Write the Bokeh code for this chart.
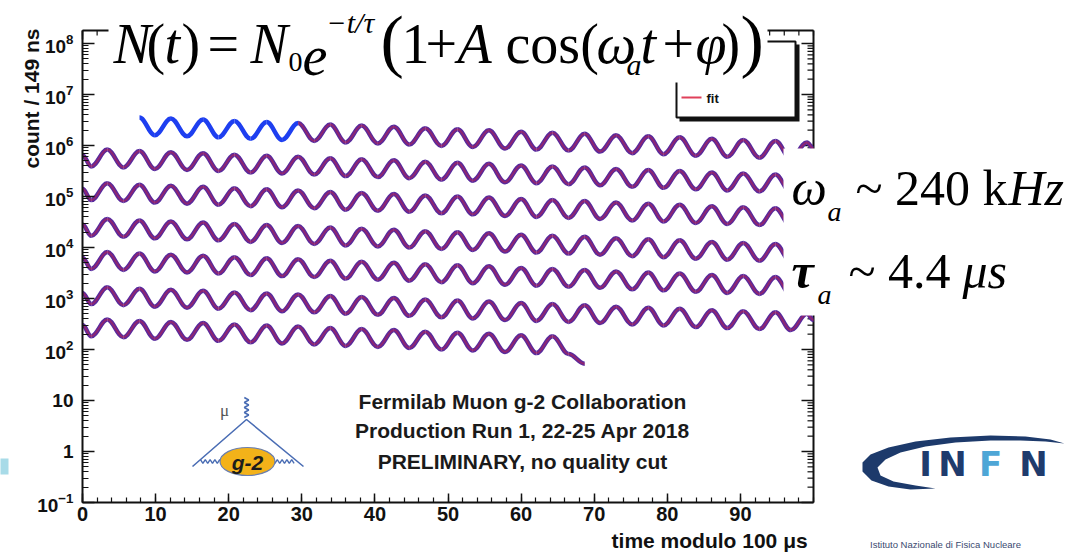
import math
import re
from bokeh.plotting import figure
from bokeh.models import (Range1d, FixedTicker, LogTicker, LogTickFormatter, Label,
                          BoxAnnotation, PolyAnnotation, ColumnDataSource)
from bokeh.embed import file_html
from bokeh.resources import INLINE

# ---------------- values ----------------
# time (us, modulo 100 us) of the row start, of every wiggle extremum and of the row end
ext_t = [0.0, 1.2, 3.4, 5.6, 7.8, 9.9, 12.1, 14.3, 16.5, 18.6, 20.8, 23.0, 25.2,
         27.3, 29.5, 31.7, 33.9, 36.0, 38.2, 40.4, 42.6, 44.7, 46.9, 49.1, 51.3,
         53.4, 55.6, 57.8, 60.0, 62.1, 64.3, 66.5, 68.7, 70.8, 73.0, 75.2, 77.4,
         79.5, 81.7, 83.9, 86.1, 88.2, 90.4, 92.6, 94.8, 96.9, 99.1, 100.0]

# log10(count / 149 ns) at those times, one list per 100 us turn (None = no data)
turn1_log10 = [None, None, None, None, 6.55, 6.20, 6.53, 6.18, 6.51, 6.16, 6.48, 6.13,
               6.46, 6.11, 6.44, 6.09, 6.41, 6.06, 6.39, 6.04, 6.37, 6.02, 6.34, 5.99,
               6.32, 5.97, 6.30, 5.94, 6.27, 5.92, 6.25, 5.90, 6.23, 5.88, 6.20, 5.85,
               6.18, 5.83, 6.16, 5.80, 6.13, 5.78, 6.11, 5.76, 6.09, 5.74, 6.06, 5.94]
turn2_log10 = [5.81, 5.59, 5.92, 5.57, 5.89, 5.54, 5.87, 5.52, 5.85, 5.50, 5.82, 5.47,
               5.80, 5.45, 5.78, 5.43, 5.75, 5.40, 5.73, 5.38, 5.71, 5.36, 5.68, 5.33,
               5.66, 5.31, 5.64, 5.28, 5.61, 5.26, 5.59, 5.24, 5.57, 5.22, 5.54, 5.19,
               5.52, 5.17, 5.50, 5.14, 5.47, 5.12, 5.45, 5.10, 5.43, 5.08, 5.40, 5.28]
turn3_log10 = [5.15, 4.93, 5.26, 4.91, 5.23, 4.88, 5.21, 4.86, 5.19, 4.84, 5.16, 4.81,
               5.14, 4.79, 5.12, 4.77, 5.09, 4.74, 5.07, 4.72, 5.05, 4.70, 5.02, 4.67,
               5.00, 4.65, 4.98, 4.62, 4.95, 4.60, 4.93, 4.58, 4.91, 4.56, 4.88, 4.53,
               4.86, 4.51, 4.84, 4.48, 4.81, 4.46, 4.79, 4.44, 4.77, 4.42, 4.74, 4.62]
turn4_log10 = [4.45, 4.23, 4.56, 4.21, 4.53, 4.18, 4.51, 4.16, 4.49, 4.14, 4.46, 4.11,
               4.44, 4.09, 4.42, 4.07, 4.39, 4.04, 4.37, 4.02, 4.35, 4.00, 4.32, 3.97,
               4.30, 3.95, 4.28, 3.92, 4.25, 3.90, 4.23, 3.88, 4.21, 3.86, 4.18, 3.83,
               4.16, 3.81, 4.14, 3.78, 4.11, 3.76, 4.09, 3.74, 4.07, 3.72, 4.04, 3.92]
turn5_log10 = [3.80, 3.58, 3.91, 3.56, 3.88, 3.53, 3.86, 3.51, 3.84, 3.49, 3.81, 3.46,
               3.79, 3.44, 3.77, 3.42, 3.74, 3.39, 3.72, 3.37, 3.70, 3.35, 3.67, 3.32,
               3.65, 3.30, 3.63, 3.27, 3.60, 3.25, 3.58, 3.23, 3.56, 3.21, 3.53, 3.18,
               3.51, 3.16, 3.49, 3.13, 3.46, 3.11, 3.44, 3.09, 3.42, 3.07, 3.39, 3.27]
turn6_log10 = [3.11, 2.89, 3.22, 2.87, 3.19, 2.84, 3.17, 2.82, 3.15, 2.80, 3.12, 2.77,
               3.10, 2.75, 3.08, 2.73, 3.05, 2.70, 3.03, 2.68, 3.01, 2.66, 2.98, 2.63,
               2.96, 2.61, 2.94, 2.58, 2.91, 2.56, 2.89, 2.54, 2.87, 2.52, 2.84, 2.49,
               2.82, 2.47, 2.80, 2.44, 2.77, 2.42, 2.75, 2.40, 2.73, 2.38, 2.70, 2.58]
turn7_log10 = [2.48, 2.26, 2.59, 2.24, 2.56, 2.21, 2.54, 2.19, 2.52, 2.17, 2.49, 2.14,
               2.47, 2.12, 2.45, 2.10, 2.42, 2.07, 2.40, 2.05, 2.38, 2.03, 2.35, 2.00,
               2.33, 1.98, 2.31, 1.95, 2.28, 1.93, 2.26, 1.91, 1.72, None, None, None,
               None, None, None, None, None, None, None, None, None, None, None, None]
turns_log10 = [turn1_log10, turn2_log10, turn3_log10, turn4_log10,
               turn5_log10, turn6_log10, turn7_log10]
fit_start_us = 29.5          # the fit is only drawn after this time in the first turn

x_ticks = [0, 10, 20, 30, 40, 50, 60, 70, 80, 90]
x_minor_ticks = [0, 2, 4, 6, 8, 10, 12, 14, 16, 18, 20, 22, 24, 26, 28, 30, 32, 34, 36,
                 38, 40, 42, 44, 46, 48, 50, 52, 54, 56, 58, 60, 62, 64, 66, 68, 70, 72,
                 74, 76, 78, 80, 82, 84, 86, 88, 90, 92, 94, 96, 98, 100]
y_decades = [-1, 0, 1, 2, 3, 4, 5, 6, 7, 8]
y_label_overrides = {1: "1", 10: "10"}
x_title = "time modulo 100  \u03bcs"
y_title = "count / 149 ns"
collab_text = ["Fermilab Muon g-2 Collaboration",
               "Production Run 1, 22-25 Apr 2018",
               "PRELIMINARY, no quality cut"]

# ---------------- geometry (canvas pixels) ----------------
W, H = 1079, 557
FX0, FX1 = 82, 813          # where t = 0 and t = 100 lie
FY0, FY1 = 30, 502          # top of the histogram frame, and where 10^-1 lies
X_LO, X_HI = 0.0, 100.0
DEC_PX = 51.0               # pixels per decade
LOG_LO = -1.0
LOG_HI = LOG_LO + (FY1 - FY0) / DEC_PX


def X(px):
    return X_LO + (px - FX0) * (X_HI - X_LO) / (FX1 - FX0)


def Y(py):
    return 10 ** (LOG_LO + (FY1 - py) / DEC_PX)


# the plotting frame is the whole canvas; the axes are pinned at the histogram frame
p = figure(width=W, height=H, output_backend="svg", toolbar_location=None,
           x_range=Range1d(X(0), X(W)), y_range=Range1d(Y(H), Y(0)),
           y_axis_type="log", min_border=0)
p.title.visible = False
p.outline_line_color = None
p.xgrid.visible = False
p.ygrid.visible = False
p.background_fill_color = "white"
p.border_fill_color = "white"

SANS = "Liberation Sans"
SERIF = "Liberation Serif"
INK = "#111111"
TOP = 10 ** LOG_HI
BOT = 10 ** LOG_LO


def style_axis(ax, tick_in, minor_in, size):
    ax.axis_line_width = 2
    ax.axis_line_color = INK
    ax.major_tick_in = tick_in
    ax.major_tick_out = 0
    ax.minor_tick_in = minor_in
    ax.minor_tick_out = 0
    ax.major_tick_line_width = 1.5
    ax.minor_tick_line_width = 1.2
    ax.major_tick_line_color = INK
    ax.minor_tick_line_color = INK
    ax.major_label_text_font = SANS
    ax.major_label_text_font_style = "bold"
    ax.major_label_text_color = INK
    ax.major_label_text_font_size = size


xa = p.xaxis[0]
xa.ticker = FixedTicker(ticks=x_ticks, minor_ticks=x_minor_ticks)
style_axis(xa, 9, 5, "20px")
xa.major_label_standoff = 4
xa.fixed_location = BOT
xa.bounds = (X_LO, X_HI)

ya = p.yaxis[0]
ya.ticker = LogTicker(num_minor_ticks=10)
ya.formatter = LogTickFormatter()
ya.major_label_overrides = y_label_overrides
style_axis(ya, 12, 6, "19px")
ya.major_label_standoff = 9
ya.fixed_location = X_LO
ya.bounds = (BOT, TOP)

# right and top frame edges with mirrored ticks (ROOT style)
p.segment(x0=[X_HI, X_LO], x1=[X_HI, X_HI], y0=[BOT, TOP], y1=[TOP, TOP],
          line_color=INK, line_width=2)
r_major = [10.0 ** k for k in y_decades]
r_minor = [m * 10.0 ** k for k in y_decades[:-1] for m in range(2, 10)]
p.segment(x0=[X_HI] * len(r_major), x1=[X(FX1 - 12)] * len(r_major), y0=r_major,
          y1=r_major, line_color=INK, line_width=1.5)
p.segment(x0=[X_HI] * len(r_minor), x1=[X(FX1 - 6)] * len(r_minor), y0=r_minor,
          y1=r_minor, line_color=INK, line_width=1.2)
p.segment(x0=x_ticks, x1=x_ticks, y0=[TOP] * len(x_ticks),
          y1=[Y(FY0 + 9)] * len(x_ticks), line_color=INK, line_width=1.5)
p.segment(x0=x_minor_ticks, x1=x_minor_ticks, y0=[TOP] * len(x_minor_ticks),
          y1=[Y(FY0 + 5)] * len(x_minor_ticks), line_color=INK, line_width=1.2)

# ---------------- wiggle curves (smooth cubic segments between read extrema) ----------------
def empty():
    return dict(x0=[], y0=[], x1=[], y1=[], cx0=[], cy0=[], cx1=[], cy1=[])


data_only = empty()
with_fit = empty()
for k, turn in enumerate(turns_log10):
    for i in range(len(ext_t) - 1):
        a, b = turn[i], turn[i + 1]
        if a is None or b is None:
            continue
        t0, t1 = ext_t[i], ext_t[i + 1]
        c0, c1 = 10 ** a, 10 ** b
        d = 0.364 * (t1 - t0)
        tgt = data_only if (k == 0 and t1 <= fit_start_us) else with_fit
        tgt["x0"].append(t0); tgt["y0"].append(c0)
        tgt["x1"].append(t1); tgt["y1"].append(c1)
        tgt["cx0"].append(t0 + d); tgt["cy0"].append(c0)
        tgt["cx1"].append(t1 - d); tgt["cy1"].append(c1)

src_data = ColumnDataSource(data_only)
src_fit = ColumnDataSource(with_fit)
bz = dict(x0="x0", y0="y0", x1="x1", y1="y1", cx0="cx0", cy0="cy0", cx1="cx1", cy1="cy1")
p.bezier(source=src_data, line_color="#1e3ff0", line_width=4.5, **bz)
p.bezier(source=src_fit, line_color="#582a9e", line_width=4.5, **bz)
p.bezier(source=src_fit, line_color="#d0203c", line_width=2.0, line_alpha=0.45, **bz)

NUMERIC = re.compile(r"[0-9+\-.]+")


# ---------------- helpers for decorations ----------------
def lab(text, px, py, size, font=SERIF, style="normal", color="black",
        align="left", baseline="alphabetic", angle=0.0):
    # py is the text baseline for "alphabetic"; convert to a bottom anchor
    # (bokeh measures purely numeric strings without a descent)
    if baseline == "alphabetic":
        if not NUMERIC.fullmatch(text):
            py = py + 0.215 * size
        baseline = "bottom"
    p.add_layout(Label(x=X(px), y=Y(py), text=text, text_font=font,
                       text_font_size=f"{size}px", text_font_style=style,
                       text_color=color, text_align=align, text_baseline=baseline,
                       angle=angle))


def box(l, t, r, b, fill="white", line=None, lw=1.0, level="annotation"):
    p.add_layout(BoxAnnotation(left=X(l), right=X(r), top=Y(t), bottom=Y(b),
                               fill_color=fill, fill_alpha=1.0, line_color=line,
                               line_alpha=1.0, line_width=lw, level=level))


# legend (ROOT style box with shadow)
box(679, 44, 799, 121, fill=INK, level="underlay")
box(676, 41, 795, 117, fill="white", line=INK, lw=2, level="underlay")
p.segment(x0=[X(681)], x1=[X(701)], y0=[Y(97)], y1=[Y(97)], line_color="#e0405a",
          line_width=2)
lab("fit", 706, 103, 13, font=SANS, style="bold", color=INK)

# white panel under the formula
box(108, -5, 767, 82)
formula = [
    ("N", 113, 62, 56, "italic"), ("(", 146, 62, 56, "normal"),
    ("t", 164, 62, 56, "italic"), (")", 181, 62, 56, "normal"),
    ("=", 207, 62, 56, "normal"), ("N", 250, 62, 56, "italic"),
    ("0", 288, 70, 28, "normal"), ("e", 302, 62, 56, "italic"),
    ("\u2212t/\u03c4", 326, 32, 30, "italic"), ("(", 380, 63, 70, "normal"),
    ("1", 401, 62, 56, "normal"), ("+", 425, 62, 56, "normal"),
    ("A", 457, 62, 56, "italic"), ("cos(", 505, 62, 56, "normal"),
    ("\u03c9", 596, 62, 56, "italic"), ("a", 626, 74, 30, "italic"),
    ("t", 640, 62, 56, "italic"), ("+", 662, 62, 56, "normal"),
    ("\u03c6", 695, 62, 56, "italic"), (")", 721, 62, 56, "normal"),
    (")", 740, 63, 70, "normal"),
]
for txt, px, py, sz, st in formula:
    lab(txt, px, py, sz, style=st)

# white panel with omega_a / tau_a
box(783, 148, W + 5, 315)
lab("\u03c9", 791, 205, 50, style="italic")
lab("a", 827, 220, 28, style="italic")
lab("~ 240 k", 855, 205, 50)
lab("Hz", 1008, 205, 50, style="italic")
lab("\u03c4", 791, 288, 50, style="bold italic")
lab("a", 817, 303, 28, style="italic")
lab("~ 4.4", 848, 288, 50)
lab("\u03bcs", 962, 288, 50, style="italic")

# axis titles
lab(y_title, 31, 28, 21, font=SANS, style="bold", color=INK, align="right",
    baseline="middle", angle=math.pi / 2)
lab(x_title, 813, 547, 21, font=SANS, style="bold", color=INK, align="right")

# collaboration text
for txt, py in zip(collab_text, [408, 437, 468]):
    lab(txt, 522, py, 21, font=SANS, style="bold", color="#1a1a1a", align="center")

# g-2 feynman diagram
DIA = "#4a6db4"
vx, vy = 246, 419
p.line([X(192), X(vx), X(303)], [Y(466), Y(vy), Y(466)], line_color=DIA, line_width=1.6)
zx, zy = [], []
n = 0
py = 397.0
while py <= vy:
    zx.append(X(vx + (2.2 if n % 2 else -2.2))); zy.append(Y(py)); n += 1; py += 2.5
p.line(zx, zy, line_color=DIA, line_width=1.6)
for xs0, xs1 in [(200, 222), (272, 294)]:
    wx, wy = [], []
    n = 0
    px = float(xs0)
    while px <= xs1:
        wx.append(X(px)); wy.append(Y(461 + (1.8 if n % 2 else -1.8))); n += 1; px += 2.4
    p.line(wx, wy, line_color=DIA, line_width=1.4)
p.ellipse(x=[X(247)], y=[Y(461)], width=[55], height=[28], width_units="screen",
          height_units="screen", fill_color="#f3b219", line_color="#6a7fb0", line_width=1.2)
lab("g-2", 247, 462, 21, font=SANS, style="bold italic", color="#1c1c1c",
    align="center", baseline="middle")
lab("\u03bc", 224, 416, 17, font=SERIF, color="#555555", align="center")

# small cyan mark at the left edge
box(-2, 458, 8, 474, fill="#a8dbe8")

# INFN logo
sw_px = [935, 910, 888, 871, 862, 862, 870, 888, 915, 950, 990, 1025, 1050, 1064,
         1045, 1020, 990, 955, 925, 900, 885, 877, 880, 893, 915]
sw_py = [488, 489, 486, 480, 471, 462, 454, 447, 441, 437, 435, 436, 439, 443,
         441, 440, 440, 442, 446, 452, 459, 467, 475, 481, 485]
p.add_layout(PolyAnnotation(xs=[X(v) for v in sw_px], ys=[Y(v) for v in sw_py],
                            fill_color="#1d3a6b", fill_alpha=1.0, line_color=None))
for ch, cxp, col in [("I", 925, "#1f3b6d"), ("N", 952, "#1f3b6d"),
                     ("F", 990, "#4ea6d6"), ("N", 1033, "#1f3b6d")]:
    lab(ch, cxp, 476, 34, font="DejaVu Sans", style="bold", color=col, align="center")
lab("Istituto Nazionale di Fisica Nucleare", 945, 547, 9.5, font=SANS,
    color="#3a4a70", align="center")

open("out.html", "w").write(file_html(p, INLINE))
